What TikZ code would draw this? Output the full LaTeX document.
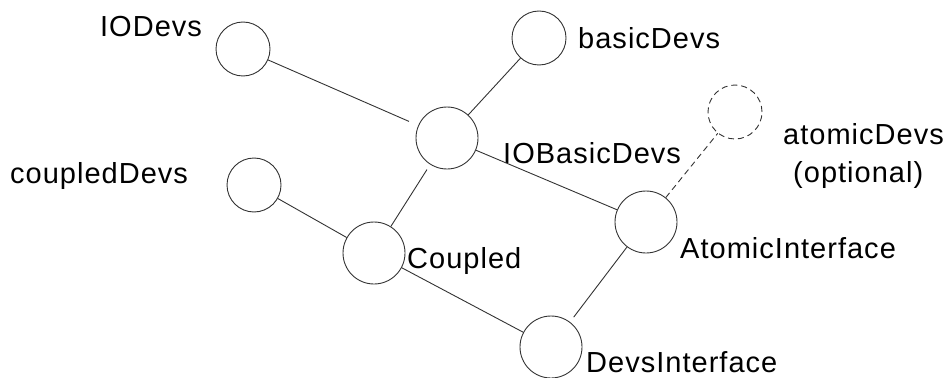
\documentclass[tikz,border=0pt]{standalone}
\usepackage{fontspec}
\setmainfont[LetterSpace=3.5]{Liberation Sans}
\usepackage{tikz}

\begin{document}
\begin{tikzpicture}[x=1pt, y=-1pt,
   ball/.style={circle, draw=black!80, line width=0.9pt, inner sep=0pt, minimum size=54pt},
   bigball/.style={ball, minimum size=62pt},
   lbl/.style={anchor=base west, inner sep=0pt, font=\fontsize{29}{34}\selectfont},
   link/.style={draw=black!80, line width=0.9pt}]

   \useasboundingbox (0,0) rectangle (949,377);

   \node[ball] (iodevs) at (243,49) {};
   \node[ball] (basicdevs) at (539,38) {};
   \node[bigball] (iobasic) at (447,138) {};
   \node[ball, dash pattern=on 6pt off 4pt] (atomicdevs) at (735,112) {};
   \node[ball] (coupleddevs) at (254,185) {};
   \node[bigball] (coupled) at (374,253) {};
   \node[bigball] (atomicif) at (646,222) {};
   \node[bigball] (devsif) at (551,347) {};

   \node[lbl] (iodevslbl) at (100,37) {IODevs};
   \node[lbl] (basicdevslbl) at (578,49) {basicDevs};
   \node[lbl] (iobasiclbl) at (503,163) {IOBasicDevs};
   \node[lbl] (atomicdevslbl) at (783,144) {atomicDevs};
   \node[lbl] (optionallbl) at (793,182) {(optional)};
   \node[lbl] (coupleddevslbl) at (10,183) {coupledDevs};
   \node[lbl] (coupledlbl) at (407,268) {Coupled};
   \node[lbl] (atomiciflbl) at (680,258) {AtomicInterface};
   \node[lbl] (devsiflbl) at (586,372) {DevsInterface};

   \draw[link, shorten >=10pt] (iodevs) -- (iobasic);
   \draw[link] (basicdevs) -- (iobasic);
   \draw[link, shorten >=6pt] (coupled) -- (iobasic);
   \draw[link] (iobasic) -- (atomicif);
   \draw[link] (coupleddevs) -- (coupled);
   \draw[link] (coupled) -- (devsif);
   \draw[link, shorten <=6pt] (devsif) -- (atomicif);
   \draw[link, dash pattern=on 6pt off 4pt] (atomicif) -- (atomicdevs);

\end{tikzpicture}
\end{document}
